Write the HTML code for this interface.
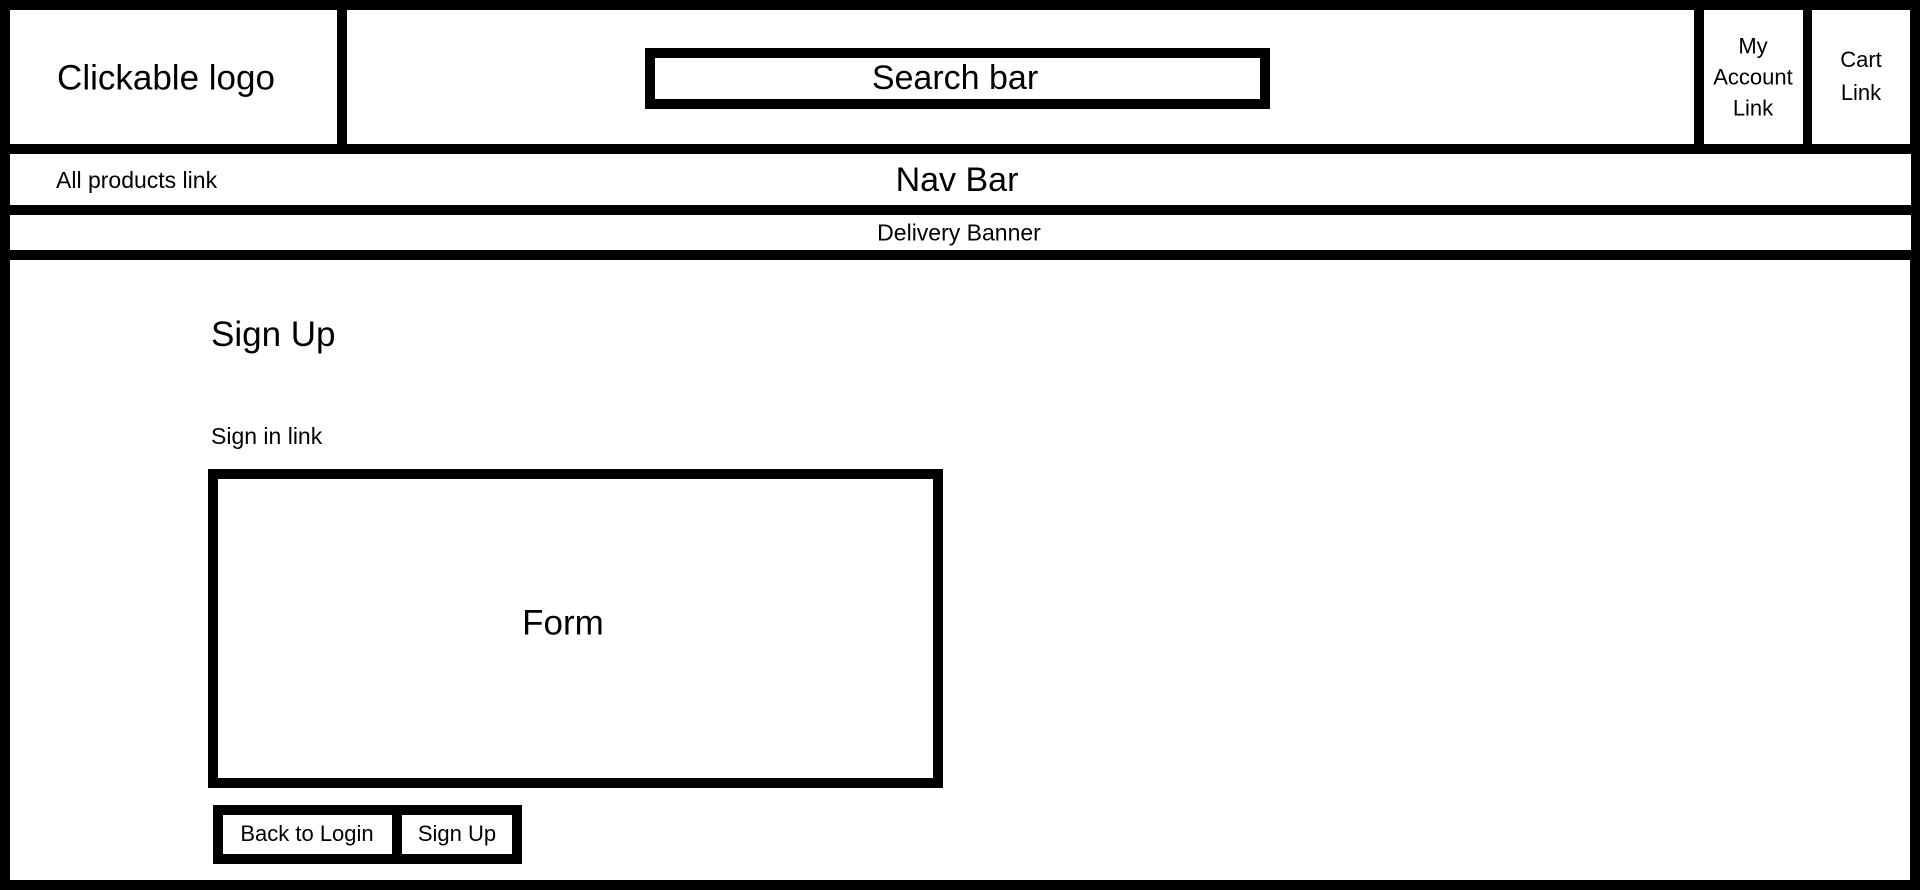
<!DOCTYPE html>
<html><head><meta charset="utf-8"><style>
body{margin:0;width:1920px;height:890px;background:#000;position:relative;overflow:hidden;font-family:"Liberation Sans",sans-serif;color:#000}
.w{position:absolute;background:#fff}
.t{position:absolute;white-space:nowrap;line-height:1}
.c{transform:translate(-50%,-50%)}
</style></head><body>
<div class="w" style="left:10px;top:10px;width:327px;height:134px"></div>
<div class="w" style="left:347px;top:10px;width:1347px;height:134px"></div>
<div class="w" style="left:1704px;top:10px;width:99px;height:134px"></div>
<div class="w" style="left:1812px;top:10px;width:98px;height:134px"></div>
<div class="w" style="left:10px;top:154px;width:1901px;height:51px"></div>
<div class="w" style="left:10px;top:215px;width:1901px;height:35px"></div>
<div class="w" style="left:10px;top:260px;width:1900px;height:620px"></div>
<div style="position:absolute;left:645px;top:48px;width:605px;height:41px;border:10px solid #000;background:#fff"></div>
<div style="position:absolute;left:208px;top:469px;width:715px;height:299px;border:10px solid #000;background:#fff"></div>
<div style="position:absolute;left:213px;top:805px;width:309px;height:59px;background:#000"></div>
<div class="w" style="left:223px;top:815px;width:169px;height:39px"></div>
<div class="w" style="left:402px;top:815px;width:110px;height:39px"></div>

<div class="t c" style="left:166px;top:78px;font-size:35px">Clickable logo</div>
<div class="t c" style="left:955px;top:78px;font-size:34px">Search bar</div>
<div class="t c" style="left:1753px;top:77px;font-size:22px;line-height:31px;text-align:center">My<br>Account<br>Link</div>
<div class="t c" style="left:1861px;top:76px;font-size:22px;line-height:33px;text-align:center">Cart<br>Link</div>
<div class="t" style="left:56px;top:169px;font-size:23px">All products link</div>
<div class="t c" style="left:957px;top:180px;font-size:34px">Nav Bar</div>
<div class="t c" style="left:959px;top:233px;font-size:23px">Delivery Banner</div>
<div class="t" style="left:211px;top:317px;font-size:35px">Sign Up</div>
<div class="t" style="left:211px;top:425px;font-size:23px">Sign in link</div>
<div class="t c" style="left:563px;top:623px;font-size:35px">Form</div>
<div class="t c" style="left:307px;top:834px;font-size:22px">Back to Login</div>
<div class="t c" style="left:457px;top:834px;font-size:22px">Sign Up</div>
</body></html>
